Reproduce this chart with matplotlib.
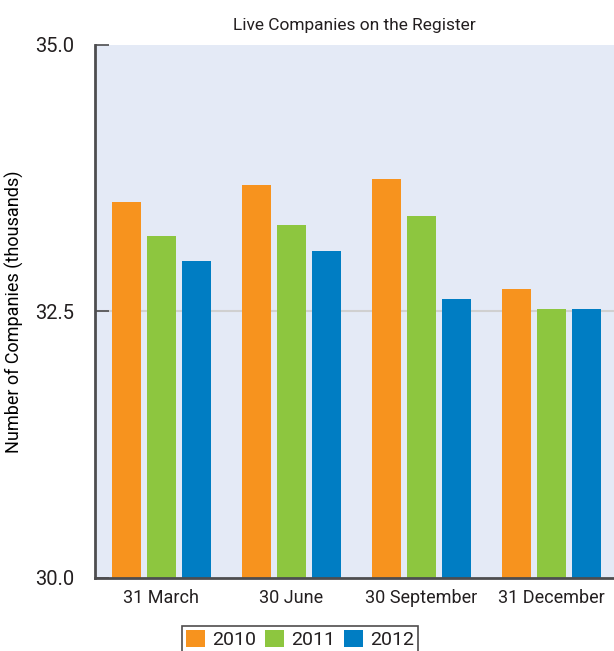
import numpy as np
import matplotlib
matplotlib.use('Agg')
import matplotlib.pyplot as plt
from matplotlib.patches import Patch

plt.rcParams['font.family'] = ['Roboto', 'DejaVu Sans']
plt.rcParams['text.color'] = '#231F20'

# Data (thousands of live companies)
quarters = ['31 March', '30 June', '30 September', '31 December']
years = ['2010', '2011', '2012']
vals_2010 = [33.53, 33.69, 33.74, 32.71]
vals_2011 = [33.21, 33.31, 33.40, 32.52]
vals_2012 = [32.97, 33.07, 32.62, 32.52]
series = [vals_2010, vals_2011, vals_2012]
colors = ['#F7931E', '#8DC63F', '#007DC3']

fig = plt.figure(figsize=(6.14, 6.51), dpi=100)
ax = fig.add_axes([95/614, 1 - 578/651, 1 - 95/614, (578 - 45)/651])
ax.set_facecolor('#E4EAF6')

x = np.arange(len(quarters))
width = 0.225
step = 0.27
for i, (vals, col) in enumerate(zip(series, colors)):
    ax.bar(x + (i - 1)*step, np.array(vals) - 30, bottom=30, width=width,
           color=col, label=years[i], zorder=2)

ax.set_ylim(30, 35)
ax.set_xlim(-0.51, 3.48)
ax.set_yticks([30, 32.5, 35])
ax.set_yticklabels(['30.0', '32.5', '35.0'], fontsize=14.5)
ax.set_xticks(x)
ax.set_xticklabels(quarters, fontsize=13)
ax.tick_params(axis='x', length=0, pad=8, labelcolor='#231F20')
ax.tick_params(axis='y', direction='in', length=10, width=1.2,
               color='#4D4D4F', pad=15, labelcolor='#231F20')
ax.axhline(32.5, color='#D0D0D0', lw=1.5, zorder=1)

for s in ['top', 'right']:
    ax.spines[s].set_visible(False)
for s in ['left', 'bottom']:
    ax.spines[s].set_color('#4D4D4F')
    ax.spines[s].set_linewidth(2)

ax.set_ylabel('Number of Companies (thousands)', fontsize=13, labelpad=8)
ax.set_title('Live Companies on the Register', fontsize=12.5, pad=11)

handles = [Patch(facecolor=c, label=y) for c, y in zip(colors, years)]
leg = fig.legend(handles=handles, loc='upper center', bbox_to_anchor=(300/614, 1 - 626/651),
                 ncol=3, fontsize=14, frameon=True, fancybox=False,
                 handlelength=1.0, handleheight=1.0, handletextpad=0.35,
                 columnspacing=0.45, borderpad=0.2, borderaxespad=0)
leg.get_frame().set_edgecolor('#231F20')
leg.get_frame().set_linewidth(1.2)

fig.savefig('out.png', dpi=100)
